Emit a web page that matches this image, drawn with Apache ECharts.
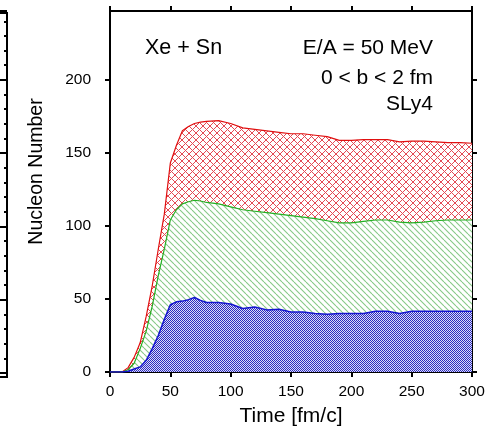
<!DOCTYPE html>
<html>
<head>
<meta charset="utf-8">
<script src="https://cdn.jsdelivr.net/npm/echarts@6/dist/echarts.min.js"></script>
<style>
html,body{margin:0;padding:0;background:#fff;}
#chart{width:490px;height:432px;}
</style>
</head>
<body>
<div id="chart"></div>
<script>
// ---- data ----
const times = [0,5,10,15,20,25,30,35,40,45,50,55,60,65,70,75,80,90,100,110,120,130,140,150,160,170,180,190,200,210,220,230,240,250,260,270,280,290,300];
const redValues = [0,0,0,3,10,20,38,59,84,108,143,155,165,168,170,171,171.5,172,170,167,166,165,164,163,163,162,161,158.5,158.5,159,159,159,157.5,158,158,157.5,157,157,156.5];
const greenValues = [0,0,0,1.5,6,16,28,45,66,84,104,111,115,116.5,117.5,117,116,115,113,111,110,109,108,107,106,105,103.5,102,102,103,104,104,102.5,102,102.5,103.5,104,104,104];
const blueValues = [0,0,0,0.5,2,3.5,8,16,25,36,46,48,48.5,49.5,51,49,47.5,47.5,46.5,43.5,44.5,42.5,43,41,41,40,39.5,40,40,40,41.5,41.5,40,41.5,41.5,41.5,41.5,41.5,41.5];
const xTicks = [0,50,100,150,200,250,300];
const yTicks = [0,50,100,150,200];
const annotations = ['Xe + Sn','E/A = 50 MeV','0 < b < 2 fm','SLy4'];

function pairs(v){ return times.map((t,i)=>[t,v[i]]); }

// ---- patterns ----
function crossPattern(size, color, bg, lw){
  const c = document.createElement('canvas'); c.width=size; c.height=size;
  const g = c.getContext('2d'); g.fillStyle=bg; g.fillRect(0,0,size,size);
  g.strokeStyle=color; g.lineWidth=lw;
  for (const o of [-size,0,size]){
    g.beginPath(); g.moveTo(o,0); g.lineTo(o+size,size); g.stroke();
    g.beginPath(); g.moveTo(o+size,0); g.lineTo(o,size); g.stroke();
  }
  return c;
}
function diagPattern(size, color, bg, lw){
  const c = document.createElement('canvas'); c.width=size; c.height=size;
  const g = c.getContext('2d'); g.fillStyle=bg; g.fillRect(0,0,size,size);
  g.strokeStyle=color; g.lineWidth=lw;
  for (const o of [-size,0,size]){
    g.beginPath(); g.moveTo(o,0); g.lineTo(o+size,size); g.stroke();
  }
  return c;
}
function checkPattern(a,b){
  const c = document.createElement('canvas'); c.width=2; c.height=2;
  const g = c.getContext('2d');
  g.fillStyle=a; g.fillRect(0,0,1,1); g.fillRect(1,1,1,1);
  g.fillStyle=b; g.fillRect(1,0,1,1); g.fillRect(0,1,1,1);
  return c;
}
const redPat = crossPattern(7,'#e34a55','#ffffff',1);
const greenPat = diagPattern(6,'#86c886','#ffffff',1.1);
const bluePat = checkPattern('#2a2ac0','#dcdcf6');

const FONT = "'Liberation Sans', Arial, Helvetica, sans-serif";
const chart = echarts.init(document.getElementById('chart'));

const axisLine = {show:true, onZero:false, lineStyle:{color:'#000', width:2}};
const tickOutX = {show:true, inside:false, length:5, lineStyle:{color:'#000', width:2}};
const tickOutY = {show:true, inside:false, length:5, customValues:yTicks, lineStyle:{color:'#000', width:2}};

chart.setOption({
  animation:false,
  backgroundColor:'#fff',
  grid:[
    {left:110, right:18, top:11, bottom:59, containLabel:false},
    {left:-100, right:483, top:11, bottom:59, show:false}
  ],
  xAxis:[
    {gridIndex:0, type:'value', min:0, max:300, interval:50, position:'bottom',
     axisLine:axisLine, axisTick:tickOutX, splitLine:{show:false},
     axisLabel:{show:true, margin:12, fontSize:15.5, color:'#000', fontFamily:FONT,
       formatter:v=>xTicks.includes(v)?String(v):''},
     name:'Time [fm/c]', nameLocation:'middle', nameGap:34,
     nameTextStyle:{fontSize:21, color:'#000', fontFamily:FONT}},
    {gridIndex:0, type:'value', min:0, max:300, interval:50, position:'top',
     axisLine:axisLine, axisTick:tickOutX, splitLine:{show:false}, axisLabel:{show:false}},
    {gridIndex:1, type:'value', min:0, max:1, show:false}
  ],
  yAxis:[
    {gridIndex:0, type:'value', min:0, max:247, interval:50, position:'left',
     axisLine:axisLine, axisTick:tickOutY, splitLine:{show:false},
     axisLabel:{show:true, margin:19, fontSize:15.5, color:'#000', fontFamily:FONT,
       formatter:v=>yTicks.includes(v)?String(v):''}},
    {gridIndex:0, type:'value', min:0, max:247, interval:50, position:'right',
     axisLine:axisLine, axisTick:tickOutY, splitLine:{show:false}, axisLabel:{show:false}},
    {gridIndex:1, type:'value', min:0, max:247, interval:50, position:'right',
     axisLine:{show:false}, splitLine:{show:false}, axisLabel:{show:false},
     axisTick:{show:true, inside:true, length:7, lineStyle:{color:'#000', width:2}},
     minorTick:{show:true, splitNumber:5, length:3, lineStyle:{color:'#000', width:2}}}
  ],
  graphic:[
    {type:'polyline', shape:{points:[[-3,13],[7,13],[7,377],[-3,377]]}, style:{stroke:'#000', lineWidth:2, fill:null}, z:100},
    {type:'text', x:37, y:171.5, rotation:Math.PI/2,
     style:{text:'Nucleon Number', font:'19.5px '+FONT, fill:'#000', textAlign:'center', textVerticalAlign:'middle', align:'center', verticalAlign:'middle'}, z:100},
    {type:'text', x:145, y:48.5,
     style:{text:annotations[0], font:'21.5px '+FONT, fill:'#000', textAlign:'left', textVerticalAlign:'middle', align:'left', verticalAlign:'middle'}, z:100},
    {type:'text', x:433, y:48.5,
     style:{text:annotations[1], font:'21px '+FONT, fill:'#000', textAlign:'right', textVerticalAlign:'middle', align:'right', verticalAlign:'middle'}, z:100},
    {type:'text', x:433, y:78,
     style:{text:annotations[2], font:'21px '+FONT, fill:'#000', textAlign:'right', textVerticalAlign:'middle', align:'right', verticalAlign:'middle'}, z:100},
    {type:'text', x:433, y:104,
     style:{text:annotations[3], font:'21px '+FONT, fill:'#000', textAlign:'right', textVerticalAlign:'middle', align:'right', verticalAlign:'middle'}, z:100}
  ],
  series:[
    {type:'line', xAxisIndex:0, yAxisIndex:0, data:pairs(redValues), showSymbol:false, z:2,
     lineStyle:{color:'#e01010', width:1.2}, areaStyle:{color:{image:redPat, repeat:'repeat'}, opacity:1}},
    {type:'line', xAxisIndex:0, yAxisIndex:0, data:pairs(greenValues), showSymbol:false, z:3,
     lineStyle:{color:'#22b022', width:1.2}, areaStyle:{color:{image:greenPat, repeat:'repeat'}, opacity:1}},
    {type:'line', xAxisIndex:0, yAxisIndex:0, data:pairs(blueValues), showSymbol:false, z:4,
     lineStyle:{color:'#1414d0', width:1.5}, areaStyle:{color:{image:bluePat, repeat:'repeat'}, opacity:1}}
  ]
});
</script>
</body>
</html>
